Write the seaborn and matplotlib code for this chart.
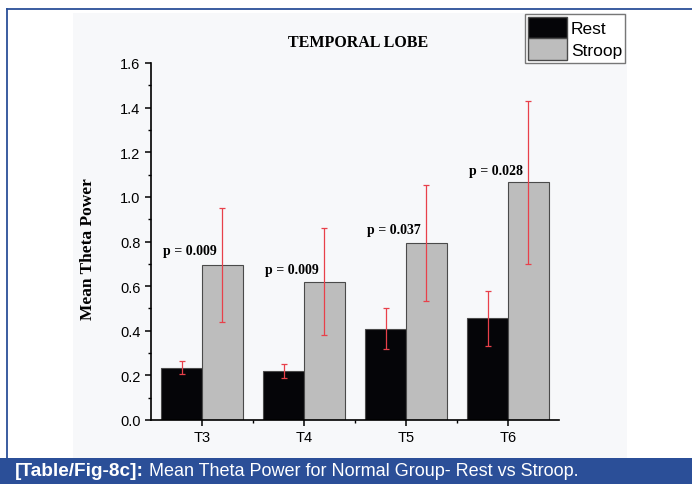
import numpy as np
import pandas as pd
import matplotlib.pyplot as plt
import seaborn as sns
from matplotlib.patches import Rectangle, Patch
from matplotlib.lines import Line2D
from matplotlib.ticker import MultipleLocator, FixedLocator

# ==============================
# DATA
# ==============================
channels = ["T3", "T4", "T5", "T6"]
rest_mean = [0.235, 0.22, 0.41, 0.455]
rest_err = [0.03, 0.03, 0.09, 0.125]
stroop_mean = [0.695, 0.62, 0.795, 1.065]
stroop_err = [0.255, 0.24, 0.26, 0.365]
p_labels = ["p = 0.009", "p = 0.009", "p = 0.037", "p = 0.028"]
p_heights = [0.76, 0.675, 0.855, 1.12]

df = pd.DataFrame({
    "channel": channels * 2,
    "condition": ["Rest"] * 4 + ["Stroop"] * 4,
    "power": rest_mean + stroop_mean,
})

# ==============================
# FIGURE
# ==============================
W, H = 692, 485
fig = plt.figure(figsize=(W / 100, H / 100), dpi=100)
fig.patch.set_facecolor("white")

blue = "#2b4f98"
# light panel behind the chart
fig.add_artist(Rectangle((73 / W, 1 - 459 / H), (627 - 73) / W, (459 - 14) / H,
                         transform=fig.transFigure, facecolor="#f7f8fa",
                         edgecolor="none", zorder=0))
# caption bar
fig.add_artist(Rectangle((0, 0), 1, (485 - 459) / H, transform=fig.transFigure,
                         facecolor=blue, edgecolor="none", zorder=0))
# thin frame lines
fig.add_artist(Line2D([7 / W, 1], [1 - 10 / H, 1 - 10 / H], transform=fig.transFigure,
                      color=blue, lw=1.3))
fig.add_artist(Line2D([7 / W, 7 / W], [1 - 10 / H, 1 - 459 / H], transform=fig.transFigure,
                      color=blue, lw=1.3))

ax = fig.add_axes([151 / W, 1 - 421 / H, (559 - 151) / W, (421 - 64) / H])
ax.set_facecolor("none")

sns.barplot(data=df, x="channel", y="power", hue="condition", ax=ax,
            palette={"Rest": "#050508", "Stroop": "#bdbdbd"},
            edgecolor="#4a4a4a", linewidth=0.8, width=0.8, legend=False)

# error bars at bar centres
for cont, means, errs in zip(ax.containers, [rest_mean, stroop_mean], [rest_err, stroop_err]):
    xs = [b.get_x() + b.get_width() / 2 for b in cont]
    ax.errorbar(xs, means, yerr=errs, fmt="none", ecolor="#e8404a",
                elinewidth=0.9, capsize=2, capthick=0.9, zorder=5)

# p-value labels
for i, (lab, h) in enumerate(zip(p_labels, p_heights)):
    ax.text(i - 0.12, h, lab, ha="center", va="center", fontsize=10,
            fontweight="bold", family="Liberation Serif", zorder=6)

ax.set_xlim(-0.5, 3.5)
ax.set_ylim(0, 1.6)
ax.yaxis.set_major_locator(MultipleLocator(0.2))
ax.yaxis.set_minor_locator(MultipleLocator(0.1))
ax.xaxis.set_minor_locator(FixedLocator([0.5, 1.5, 2.5]))
ax.set_yticks(np.arange(0, 1.61, 0.2))
ax.set_yticklabels([f"{v:.1f}" for v in np.arange(0, 1.61, 0.2)])
for s in ["top", "right"]:
    ax.spines[s].set_visible(False)
for s in ["left", "bottom"]:
    ax.spines[s].set_linewidth(1.2)
ax.tick_params(axis="both", which="major", direction="out", length=4, width=1.1,
               labelsize=10.5)
ax.tick_params(axis="both", which="minor", direction="out", length=2.5, width=1)
for t in ax.get_xticklabels() + ax.get_yticklabels():
    t.set_family("Liberation Sans")

ax.set_xlabel("")
ax.set_ylabel("Mean Theta Power", family="Liberation Serif", fontweight="bold",
              fontsize=12.5)
ax.yaxis.set_label_coords(-0.135, 0.482)

fig.text(358 / W, 1 - 43 / H, "TEMPORAL LOBE", ha="center", va="center",
         family="Liberation Serif", fontweight="bold", fontsize=11.5)

handles = [Patch(facecolor="#050508", edgecolor="#4a4a4a"),
           Patch(facecolor="#bdbdbd", edgecolor="#4a4a4a")]
fig.legend(handles, ["Rest", "Stroop"], loc="upper left",
           bbox_to_anchor=(525 / W, 1 - 15 / H), prop={"family": "Liberation Sans", "size": 12.5},
           frameon=True, fancybox=False, edgecolor="#777777", framealpha=1,
           handlelength=2.25, handleheight=1.55, handletextpad=0.25,
           labelspacing=0.0, borderpad=0.15, borderaxespad=0)

# caption
fig.text(15 / W, 1 - 472 / H, "[Table/Fig-8c]:", ha="left", va="center", color="white",
         fontweight="bold", family="Liberation Sans", fontsize=13.7)
fig.text(149 / W, 1 - 472 / H, "Mean Theta Power for Normal Group- Rest vs Stroop.",
         ha="left", va="center", color="white", family="Liberation Sans", fontsize=13)

fig.savefig("out.png", dpi=100)
